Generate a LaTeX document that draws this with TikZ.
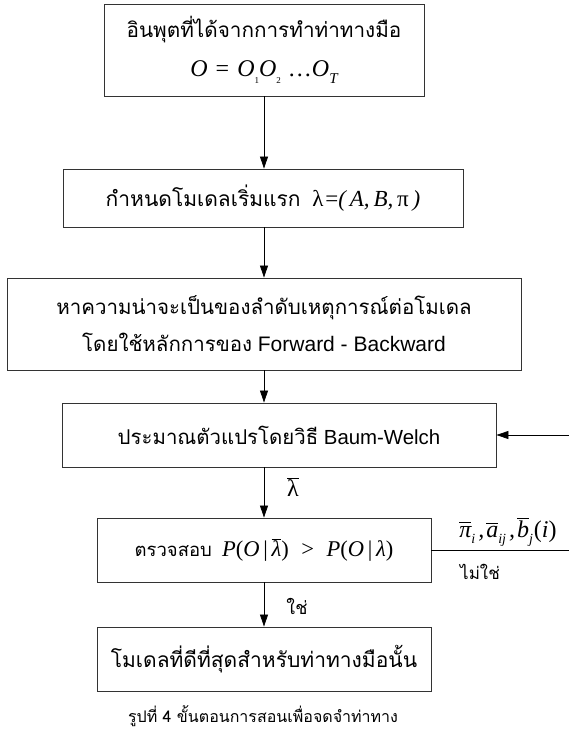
\documentclass[tikz,border=0pt]{standalone}
\usepackage{fontspec}
\setmainfont{Liberation Sans}
\newfontfamily\thai[Script=Thai]{Loma}
\newfontfamily\tnr{Liberation Serif}
\newcommand{\mi}[1]{{\tnr\itshape #1}}
\newcommand{\mr}[1]{{\tnr #1}}
\newcommand{\ob}[2][1.4pt]{\leavevmode\vbox{\hrule height 0.7pt\kern#1\hbox{#2}}}
\newcommand{\sub}[2][14]{\raisebox{-0.28em}{\fontsize{#1}{#1}\selectfont #2}}
\usetikzlibrary{arrows.meta}
\begin{document}
\begin{tikzpicture}[x=1pt,y=-1pt,
  box/.style={draw=black!80, line width=0.9pt, inner sep=0pt, align=center},
  arr/.style={line width=0.8pt, -{Triangle[width=8pt,length=12pt]}},
  lnk/.style={line width=0.8pt}]
\useasboundingbox (0,0) rectangle (569,737);
\node[box, minimum width=320pt, minimum height=92pt, font=\fontsize{20.7}{39}\selectfont] (b1) at (264,50)
  {{\thai อินพุตที่ได้จากการทำท่าทางมือ}\\ {\fontsize{24}{24}\selectfont\mi{O}\hspace{8pt}\mr{=}\hspace{8pt}\mi{O}\sub[9]{\mr{1}}\mi{O}\sub[9]{\mr{2}}\hspace{7pt}\mr{\ldots}\mi{O}\sub[15]{\mi{T}}}};
\node[box, minimum width=400pt, minimum height=58pt, font=\fontsize{21}{26}\selectfont] (b2) at (263,198)
  {{\thai กำหนดโมเดลเริ่มแรก}\ \ {\fontsize{23}{23}\selectfont\mr{λ}\hspace{2pt}\mr{=}\mi{(\,A,\,B,\,}\mr{π}\mi{\,)}}};
\node[box, minimum width=514pt, minimum height=92pt, font=\fontsize{20.5}{37}\selectfont] (b3) at (264,324)
  {{\thai หาความน่าจะเป็นของลำดับเหตุการณ์ต่อโมเดล}\\ {\thai โดยใช้หลักการของ} {\fontsize{21}{21}\selectfont Forward - Backward}};
\node[box, minimum width=434pt, minimum height=64pt, font=\fontsize{20.4}{26}\selectfont] (b4) at (279,435)
  {{\thai ประมาณตัวแปรโดยวิธี} Baum-Welch};
\node[box, minimum width=334pt, minimum height=64pt, font=\fontsize{18.5}{26}\selectfont] (b5) at (264,550)
  {{\thai ตรวจสอบ}\ \ {\fontsize{22.5}{22}\selectfont\mi{P}\mr{(}\mi{O}\,\mr{|}\,\ob{\mi{λ}}\mr{)}\ \ \mr{>}\ \ \mi{P}\mr{(}\mi{O}\,\mr{|}\,\mi{λ}\mr{)}}};
\node[box, minimum width=334pt, minimum height=64pt, font=\fontsize{21}{26}\selectfont] (b6) at (264,659)
  {{\thai โมเดลที่ดีที่สุดสำหรับท่าทางมือนั้น}};
\coordinate (fb1) at (569,550);
\coordinate (fb2) at (569,435);
\draw[arr] (b1.south) -- (b2.north -| b1.south);
\draw[arr] (b2.south -| b1.south) -- (b3.north -| b1.south);
\draw[arr] (b3.south -| b1.south) -- (b4.north -| b1.south);
\draw[arr] (b4.south -| b1.south) -- (b5.north);
\draw[arr] (b5.south) -- (b6.north);
\draw[lnk] (b5.east) -- (fb1);
\draw[arr] (fb2) -- (b4.east);
\node[font=\fontsize{24}{24}\selectfont, inner sep=1pt] (lb) at (293,487) {\ob{\mr{λ}}};
\node[font=\fontsize{18}{20}\selectfont] (yes) at (297,606) {\thai ใช่};
\node[font=\fontsize{24}{24}\selectfont, anchor=south, inner sep=2pt] (par) at (508,549)
  {\ob[3pt]{\mi{π}}\sub{\mi{i}}\hspace{3pt}\mi{,}\hspace{2pt}\ob[2pt]{\mi{a}}\sub{\mi{ij}}\hspace{3pt}\mi{,}\hspace{2pt}\ob{\mi{b}}\sub{\mi{j}}\hspace{1pt}\mr{(}\mi{i}\mr{)}};
\node[font=\fontsize{17}{18}\selectfont] (no) at (480,572) {\thai ไม่ใช่};
\node[font=\fontsize{16}{20}\selectfont] (cap) at (263,716) {\thai รูปที่ 4 ขั้นตอนการสอนเพื่อจดจำท่าทาง};
\end{tikzpicture}
\end{document}
